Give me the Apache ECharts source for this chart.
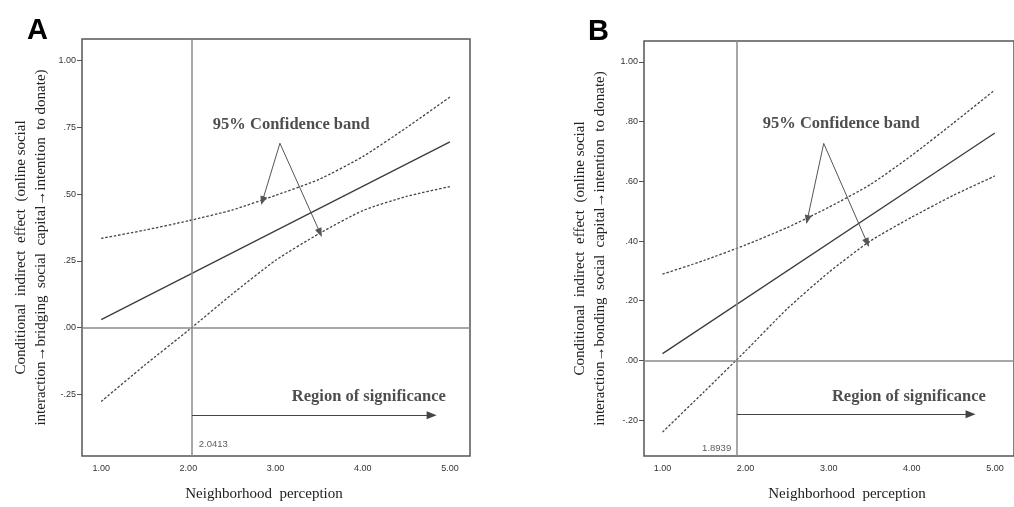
<!DOCTYPE html>
<html>
<head>
<meta charset="utf-8">
<script src="https://cdn.jsdelivr.net/npm/echarts@6/dist/echarts.min.js"></script>
<style>html,body{margin:0;padding:0;background:#fff;}#c{width:1014px;height:507px;}</style>
</head>
<body>
<div id="c"></div>
<script>
// ---- data ----
const xTicks = [1, 2, 3, 4, 5];
const yTicksA = [-0.25, 0, 0.25, 0.5, 0.75, 1.0];
const yTicksB = [-0.2, 0, 0.2, 0.4, 0.6, 0.8, 1.0];
const bandX = [1, 1.5, 2, 2.5, 3, 3.5, 4, 4.5, 5];

const effectA = [[1, 0.03], [5, 0.695]];
const upperA = [0.334, 0.365, 0.40, 0.44, 0.495, 0.555, 0.64, 0.748, 0.863];
const lowerA = [-0.276, -0.14, -0.01, 0.125, 0.252, 0.352, 0.438, 0.491, 0.528];
const jnA = 2.0413;

const effectB = [[1, 0.023], [5, 0.762]];
const upperB = [0.289, 0.335, 0.387, 0.445, 0.513, 0.589, 0.687, 0.795, 0.906];
const lowerB = [-0.24, -0.105, 0.032, 0.173, 0.295, 0.40, 0.48, 0.553, 0.618];
const jnB = 1.8939;

// annotation anchors (data coordinates)
const bandArrowsA = [[[3.05, 0.69], [2.85, 0.475]], [[3.05, 0.69], [3.51, 0.355]]];
const bandArrowsB = [[[2.94, 0.727], [2.743, 0.472]], [[2.94, 0.727], [3.463, 0.394]]];
const regionArrowA = [[jnA, -0.328], [4.79, -0.328]];
const regionArrowB = [[jnB, -0.18], [4.707, -0.18]];
const bandLabelA = [3.18, 0.761];
const bandLabelB = [3.15, 0.793];
const regionLabelA = [4.07, -0.26];
const regionLabelB = [3.965, -0.12];
const jnLabelA = [2.12, -0.438];
const jnLabelB = [1.826, -0.296];

const yTitleA = 'Conditional  indirect  effect  (online social\ninteraction\u2192bridging  social  capital\u2192intention  to donate)';
const yTitleB = 'Conditional  indirect  effect  (online social\ninteraction\u2192bonding  social  capital\u2192intention  to donate)';
const xTitle = 'Neighborhood  perception';

// ---- helpers ----
const serif = '"Liberation Serif", "Times New Roman", serif';
const sans = '"Liberation Sans", Arial, sans-serif';
function fmt(v) {
  let s = Math.abs(v).toFixed(2);
  if (s.startsWith('0')) s = s.slice(1);
  return (v < -1e-9 ? '-' : '') + s;
}
function zip(xs, ys) { return xs.map((x, i) => [x, ys[i]]); }

function xAxisCfg(idx, min, max, pad) {
  return {
    type: 'value', gridIndex: idx, min: min, max: max,
    axisLine: { show: false }, splitLine: { show: false },
    axisTick: { show: false },
    axisLabel: { customValues: xTicks, formatter: v => v.toFixed(2), fontFamily: sans, fontSize: 9, color: '#333', margin: 8 },
    name: xTitle, nameLocation: 'middle', nameGap: 31, nameMoveOverlap: false,
    nameTextStyle: { fontFamily: serif, fontSize: 15, color: '#222', padding: pad }
  };
}
function yAxisCfg(idx, min, max, ticks, title, gap) {
  return {
    type: 'value', gridIndex: idx, min: min, max: max,
    axisLine: { show: false }, splitLine: { show: false },
    axisTick: { show: true, customValues: ticks, length: 5, lineStyle: { color: '#555', width: 1 } },
    axisLabel: { customValues: ticks, formatter: fmt, fontFamily: sans, fontSize: 9, color: '#333', margin: 6 },
    name: title, nameLocation: 'middle', nameGap: gap, nameMoveOverlap: false,
    nameTextStyle: { fontFamily: serif, fontSize: 15, color: '#222', lineHeight: 20 }
  };
}
function arrowData(arrs, size) {
  return arrs.map(a => [
    { coord: a[0], symbol: 'none' },
    { coord: a[1], symbol: 'triangle', symbolSize: size }
  ]);
}
function panelSeries(idx, effect, upper, lower, jn, bandArrows, regionArrow, bandLabel, regionLabel, jnLabel, jnPos) {
  const dash = { color: '#444', width: 1.3, type: [2.5, 1.8] };
  return [
    {
      type: 'line', xAxisIndex: idx, yAxisIndex: idx, data: effect, symbol: 'none', silent: true,
      lineStyle: { color: '#3c3c3c', width: 1.3 }, z: 3,
      markLine: {
        silent: true, symbol: 'none', animation: false,
        lineStyle: { color: '#8a8a8a', width: 1.5, type: 'solid' }, label: { show: false },
        data: [{ xAxis: jn }, { yAxis: 0 }]
      }
    },
    {
      type: 'line', xAxisIndex: idx, yAxisIndex: idx, data: zip(bandX, upper), symbol: 'none', silent: true,
      smooth: 0.2, lineStyle: dash,
      markLine: {
        silent: true, animation: false,
        lineStyle: { color: '#555', width: 1, type: 'solid' },
        itemStyle: { color: '#222' }, label: { show: false },
        data: arrowData(bandArrows, [7, 9])
      }
    },
    {
      type: 'line', xAxisIndex: idx, yAxisIndex: idx, data: zip(bandX, lower), symbol: 'none', silent: true,
      smooth: 0.2, lineStyle: dash,
      markLine: {
        silent: true, animation: false,
        lineStyle: { color: '#444', width: 1.2, type: 'solid' },
        itemStyle: { color: '#222' }, label: { show: false },
        data: arrowData([regionArrow], [8, 10])
      }
    },
    {
      type: 'scatter', xAxisIndex: idx, yAxisIndex: idx, symbolSize: 0, silent: true,
      data: [
        { value: bandLabel, label: { show: true, position: 'inside', formatter: '95% Confidence band', fontFamily: serif, fontWeight: 'bold', fontSize: 16.5, color: '#222' } },
        { value: regionLabel, label: { show: true, position: 'inside', formatter: 'Region of significance', fontFamily: serif, fontWeight: 'bold', fontSize: 16.5, color: '#222' } },
        { value: jnLabel, label: { show: true, position: jnPos, distance: 0, formatter: String(jn), fontFamily: sans, fontSize: 9.5, color: '#333' } }
      ]
    }
  ];
}

const chart = echarts.init(document.getElementById('c'), null, { renderer: 'canvas' });
chart.setOption({
  animation: false,
  backgroundColor: '#fff',
  title: [
    { text: 'A', left: 22, top: 11, textStyle: { fontFamily: sans, fontWeight: 'bold', fontSize: 29, color: '#000' } },
    { text: 'B', left: 583, top: 12, textStyle: { fontFamily: sans, fontWeight: 'bold', fontSize: 29, color: '#000' } }
  ],
  grid: [
    { left: 82, top: 39, width: 388, height: 419, show: true, borderColor: '#555', borderWidth: 1.5, backgroundColor: 'transparent' },
    { left: 644, top: 41, width: 379, height: 418, show: true, borderColor: '#555', borderWidth: 1.5, backgroundColor: 'transparent' }
  ],
  xAxis: [xAxisCfg(0, 0.78, 5.23, [0, 24, 0, 0]), xAxisCfg(1, 0.777, 5.23, [0, 0, 0, 36])],
  yAxis: [yAxisCfg(0, -0.48, 1.08, yTicksA, yTitleA, 31), yAxisCfg(1, -0.32, 1.07, yTicksB, yTitleB, 34)],
  series: [].concat(
    panelSeries(0, effectA, upperA, lowerA, jnA, bandArrowsA, regionArrowA, bandLabelA, regionLabelA, jnLabelA, 'right'),
    panelSeries(1, effectB, upperB, lowerB, jnB, bandArrowsB, regionArrowB, bandLabelB, regionLabelB, jnLabelB, 'left')
  )
});
</script>
</body>
</html>
